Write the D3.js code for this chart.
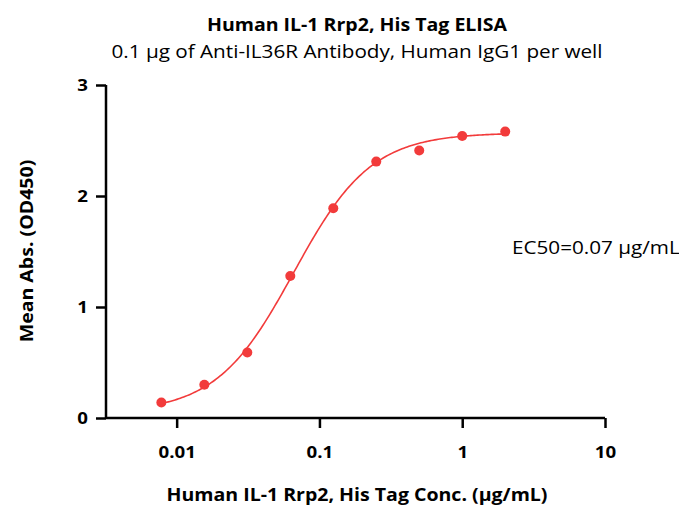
<!DOCTYPE html>
<html>
<head>
<meta charset="utf-8">
<script src="https://cdn.jsdelivr.net/npm/d3@7"></script>
<style>
  body { margin: 0; background: #fff; }
  text { font-family: "Open Sans", sans-serif; }
</style>
</head>
<body>
<div id="chart"></div>
<script>
// concentrations (ug/mL) and mean OD450
var conc = [0.0078125, 0.015625, 0.03125, 0.0625, 0.125, 0.25, 0.5, 1, 2];
var od = [0.14, 0.30, 0.59, 1.28, 1.89, 2.31, 2.41, 2.54, 2.58];
var xTicks = [0.01, 0.1, 1, 10];
var xTickLabels = ["0.01", "0.1", "1", "10"];
var yTicks = [0, 1, 2, 3];

// 4PL fit parameters
var fitBottom = 0.05, fitTop = 2.57, ec50 = 0.066, hill = 1.6;

var width = 679, height = 505;
var margin = { top: 85, right: 74, bottom: 87, left: 106 };
var innerW = width - margin.left - margin.right;
var innerH = height - margin.top - margin.bottom;

var xScale = d3.scaleLog().domain([0.0032, 10]).range([0, innerW]);
var yScale = d3.scaleLinear().domain([0, 3]).range([innerH, 0]);

var red = "#f23b3b";
var stretch = 1.15; // the source lettering is wider than Open Sans
var tickStretch = 1.17;

var svg = d3.select("#chart").append("svg")
    .attr("width", width)
    .attr("height", height);

function label(x, y, txt, size, bold, anchor, rot) {
    return svg.append("text")
        .attr("transform", `translate(${x}, ${y})` + (rot ? ` rotate(${rot})` : "") + ` scale(${stretch}, 1)`)
        .attr("text-anchor", anchor || "middle")
        .style("font-size", size + "px")
        .style("font-weight", bold ? "bold" : "normal")
        .text(txt);
}

label(357, 31, "Human IL-1 Rrp2, His Tag ELISA", 17, true);
label(357, 58, "0.1 μg of Anti-IL36R Antibody, Human IgG1 per well", 18, false);

var g = svg.append("g")
    .attr("transform", `translate(${margin.left}, ${margin.top})`);

var xAxis = d3.axisBottom(xScale)
    .tickValues(xTicks)
    .tickFormat((d, i) => xTickLabels[i])
    .tickSize(10)
    .tickPadding(19);
var yAxis = d3.axisLeft(yScale)
    .tickValues(yTicks)
    .tickFormat(d3.format("d"))
    .tickSize(10)
    .tickPadding(8);

var xAxisG = g.append("g")
    .attr("transform", `translate(0, ${innerH})`)
    .call(xAxis);
var yAxisG = g.append("g").call(yAxis);

[xAxisG, yAxisG].forEach(function (a) {
    a.select(".domain").attr("stroke", "#000").attr("stroke-width", 2.5);
    a.selectAll(".tick line").attr("stroke", "#000").attr("stroke-width", 2.5);
    a.selectAll(".tick text")
        .attr("fill", "#000")
        .attr("transform", `scale(${tickStretch}, 1)`)
        .style("font-family", "'Open Sans', sans-serif")
        .style("font-size", "16px")
        .style("font-weight", "bold");
});
yAxisG.selectAll(".tick text").attr("x", -18 / tickStretch);
// plain domain lines without outer ticks
xAxisG.select(".domain").attr("d", `M0,0H${innerW}`);
yAxisG.select(".domain").attr("d", `M0,0V${innerH}`);

// fitted curve
var fit = function (x) { return fitBottom + (fitTop - fitBottom) / (1 + Math.pow(ec50 / x, hill)); };
var logMin = Math.log(conc[0]), logMax = Math.log(conc[conc.length - 1]);
var lx = d3.range(0, 201).map(i => Math.exp(logMin + i / 200 * (logMax - logMin)));
var line = d3.line()
    .x(d => xScale(d))
    .y(d => yScale(fit(d)));

g.append("path")
    .datum(lx)
    .attr("d", line)
    .style("fill", "none")
    .style("stroke", red)
    .style("stroke-width", 1.6);

g.selectAll(".pt")
    .data(conc)
    .join("circle")
    .attr("class", "pt")
    .attr("cx", d => xScale(d))
    .attr("cy", (d, i) => yScale(od[i]))
    .attr("r", 5)
    .attr("fill", red);

label(512, 254, "EC50=0.07 μg/mL", 18, false, "start");
label(33, 251, "Mean Abs. (OD450)", 17, true, "middle", -90);
label(357, 501, "Human IL-1 Rrp2, His Tag Conc. (μg/mL)", 17, true);
</script>
</body>
</html>
